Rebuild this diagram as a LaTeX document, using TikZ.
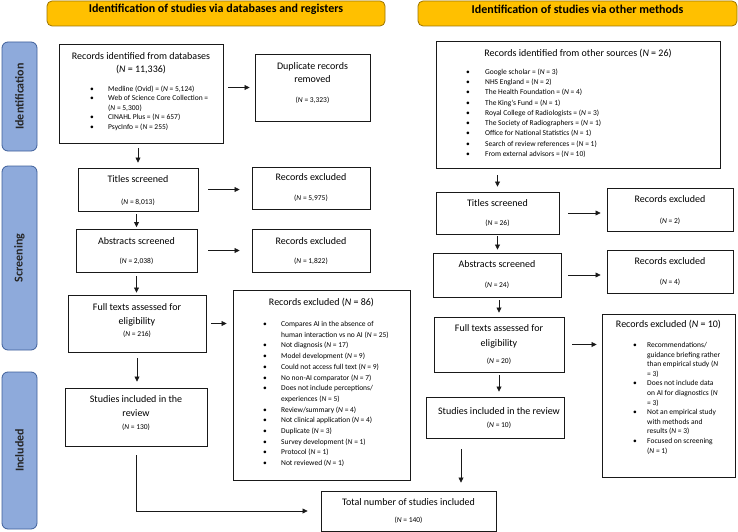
\documentclass[tikz,border=0pt]{standalone}
\usepackage{fontspec}
\setmainfont{Carlito}
\usepackage{graphicx}
\usetikzlibrary{arrows.meta,fit,calc}
\definecolor{hdrfill}{HTML}{FFC000}
\definecolor{hdrline}{HTML}{9C7400}
\definecolor{sidefill}{HTML}{8EAADB}
\definecolor{sideline}{HTML}{3E5F9A}
\newlength\bx
\newlength\tx
\newcommand\NN[1]{(\textit{N} = #1)}
\newcommand\bitem[1]{\par\hangindent=\tx\hangafter=1\noindent\hbox to \tx{\hspace*{\bx}\textbullet\hfil}#1}
\newcommand\blst[5]{\begin{minipage}[t]{\dimexpr#2+#3\relax}\setlength\bx{#1}\setlength\tx{#2}\fontsize{7.5}{#4}\selectfont\raggedright #5\end{minipage}}
\tikzset{
  box/.style={draw=black!90, line width=0.9pt, inner sep=0pt, fill=white},
  hdr/.style={draw=hdrline, line width=0.8pt, fill=hdrfill, rounded corners=5pt, inner sep=0pt,
    font=\fontsize{12}{14}\selectfont\bfseries},
  side/.style={draw=sideline, line width=0.8pt, fill=sidefill, rounded corners=6pt, inner sep=0pt,
    font=\fontsize{12}{14}\selectfont\bfseries, text=black!85},
  ttl/.style={font=\fontsize{10}{12}\selectfont, inner sep=0pt, text height=6.5pt, text depth=0pt},
  nsm/.style={font=\fontsize{7.5}{9}\selectfont, inner sep=0pt, text height=5pt, text depth=0pt},
  lst/.style={inner sep=0pt, anchor=base west},
  arr/.style={draw=black!90, line width=0.7pt, -{Triangle[length=5pt,width=5pt]}},
}
\begin{document}
\begin{tikzpicture}[x=1pt,y=-1pt]
\useasboundingbox (0,0) rectangle (738,532);
% headers
\node[hdr, fit={(47,1) (385,26)}] (H1) {Identification of studies via databases and registers};
\node[hdr, fit={(418,1) (737,26)}] (H2) {Identification of studies via other methods};
% side labels
\node[side, fit={(2,42) (37,151)}] (S1) {};
\node[side, fit={(2,166) (37,350)}] (S2) {};
\node[side, fit={(2,372) (37,529)}] (S3) {};
\node[side, draw=none, fill=none] (S1t) at (S1.center) {\rotatebox{90}{Identification}};
\node[side, draw=none, fill=none] (S2t) at (S2.center) {\rotatebox{90}{Screening}};
\node[side, draw=none, fill=none] (S3t) at (S3.center) {\rotatebox{90}{Included}};
% left column boxes
\node[box, fit={(59,44) (223,143)}] (A) {};
\node[ttl] (A1) at (141,56) {Records identified from databases};
\node[ttl] (A2) at (141,69) {\NN{11,336}};
\node[lst] (AL) at (59,91.5) {\blst{31pt}{49pt}{104pt}{9.5pt}{%
  \bitem{Medline (Ovid) = \NN{5,124}}
  \bitem{Web of Science Core Collection = \NN{5,300}}
  \bitem{CINAHL Plus = \NN{657}}
  \bitem{PsycInfo = \NN{255}}}};
\node[box, fit={(255,54) (370,121)}] (B) {};
\node[ttl] (B1) at (312.5,66) {Duplicate records};
\node[ttl] (B2) at (312.5,79) {removed};
\node[nsm] (B3) at (312.5,100) {\NN{3,323}};
\node[box, fit={(78,168) (198,211)}] (C) {};
\node[ttl] (C1) at (138,179) {Titles screened};
\node[nsm] (C2) at (138,202) {\NN{8,013}};
\node[box, fit={(252,167) (370,209)}] (D) {};
\node[ttl] (D1) at (311,177) {Records excluded};
\node[nsm] (D2) at (311,198) {\NN{5,975}};
\node[box, fit={(76,229) (197,272)}] (E) {};
\node[ttl] (E1) at (136.5,241) {Abstracts screened};
\node[nsm] (E2) at (136.5,261) {\NN{2,038}};
\node[box, fit={(252,229) (370,272)}] (F) {};
\node[ttl] (F1) at (311,241) {Records excluded};
\node[nsm] (F2) at (311,261) {\NN{1,822}};
\node[box, fit={(68,295) (206,352)}] (G) {};
\node[ttl] (G1) at (137,307) {Full texts assessed for};
\node[ttl] (G2) at (137,321) {eligibility};
\node[nsm] (G3) at (137,334) {\NN{216}};
\node[box, fit={(233,290) (410,480)}] (Hx) {};
\node[ttl] (Hx1) at (321.5,302) {Records excluded (\textit{N} = 86)};
\node[lst] (HL) at (233,326.5) {\blst{30pt}{48pt}{112pt}{10.7pt}{%
  \bitem{Compares AI in the absence of human interaction vs no AI \NN{25}}
  \bitem{Not diagnosis \NN{17}}
  \bitem{Model development \NN{9}}
  \bitem{Could not access full text \NN{9}}
  \bitem{No non-AI comparator \NN{7}}
  \bitem{Does not include perceptions/ experiences \NN{5}}
  \bitem{Review/summary \NN{4}}
  \bitem{Not clinical application \NN{4}}
  \bitem{Duplicate \NN{3}}
  \bitem{Survey development \NN{1}}
  \bitem{Protocol \NN{1}}
  \bitem{Not reviewed \NN{1}}}};
\node[box, fit={(65,388) (207,446)}] (I) {};
\node[ttl] (I1) at (136,399) {Studies included in the};
\node[ttl] (I2) at (136,413) {review};
\node[nsm] (I3) at (136,427) {\NN{130}};
\node[box, fit={(321,491) (496,531)}] (T) {};
\node[ttl] (T1) at (408.5,502) {Total number of studies included};
\node[nsm] (T2) at (408.5,520) {\NN{140}};
% right column boxes
\node[box, fit={(436,41) (720,168)}] (J) {};
\node[ttl] (J1) at (578,53) {Records identified from other sources (\textit{N} = 26)};
\node[lst] (JL) at (436,74.5) {\blst{30pt}{49pt}{200pt}{10.25pt}{%
  \bitem{Google scholar = \NN{3}}
  \bitem{NHS England = \NN{2}}
  \bitem{The Health Foundation = \NN{4}}
  \bitem{The King’s Fund = \NN{1}}
  \bitem{Royal College of Radiologists = \NN{3}}
  \bitem{The Society of Radiographers = \NN{1}}
  \bitem{Office for National Statistics \NN{1}}
  \bitem{Search of review references = \NN{1}}
  \bitem{From external advisors = \NN{10}}}};
\node[box, fit={(436,192) (559,234)}] (K) {};
\node[ttl] (K1) at (497.5,203) {Titles screened};
\node[nsm] (K2) at (497.5,223) {\NN{26}};
\node[box, fit={(607,188) (733,231)}] (L) {};
\node[ttl] (L1) at (670,199) {Records excluded};
\node[nsm] (L2) at (670,221) {\NN{2}};
\node[box, fit={(433,253) (561,297)}] (M) {};
\node[ttl] (M1) at (497,264) {Abstracts screened};
\node[nsm] (M2) at (497,285) {\NN{24}};
\node[box, fit={(607,250) (733,293)}] (N) {};
\node[ttl] (N1) at (670,261) {Records excluded};
\node[nsm] (N2) at (670,282) {\NN{4}};
\node[box, fit={(434,317) (564,372)}] (O) {};
\node[ttl] (O1) at (499,328) {Full texts assessed for};
\node[ttl] (O2) at (499,343) {eligibility};
\node[nsm] (O3) at (499,361) {\NN{20}};
\node[box, fit={(602,314) (735,477)}] (P) {};
\node[ttl] (P1) at (668.5,324) {Records excluded (\textit{N} = 10)};
\node[lst] (PL) at (602,347.5) {\blst{31pt}{45pt}{73pt}{9.6pt}{%
  \bitem{Recommendations/ guidance briefing rather than empirical study \NN{3}}
  \bitem{Does not include data on AI for diagnostics \NN{3}}
  \bitem{Not an empirical study with methods and results \NN{3}}
  \bitem{Focused on screening \NN{1}}}};
\node[box, fit={(426,397) (564,438)}] (Q) {};
\node[ttl] (Q1) at (499,411) {Studies included in the review};
\node[nsm] (Q2) at (499,425) {\NN{10}};
\coordinate (qt) at (461,0);
% arrows left
\draw[arr, shorten <=5pt, shorten >=5pt] (A.east |- B.west) -- (B.west);
\draw[arr, shorten <=5pt, shorten >=5pt] (C.north |- A.south) -- (C.north);
\draw[arr, shorten <=10pt, shorten >=12pt] (C.east) -- (C.east -| D.west);
\draw[arr, shorten <=3pt, shorten >=1.5pt] (E.north |- C.south) -- (E.north);
\draw[arr, shorten <=11pt, shorten >=12pt] (E.east) -- (E.east -| F.west);
\draw[arr, shorten <=4pt, shorten >=2pt] (E.south) -- (E.south |- G.north);
\draw[arr, shorten <=5pt, shorten >=6pt] (G.east) -- (G.east -| Hx.west);
\draw[arr, shorten <=6pt, shorten >=6pt] (G.south) -- (G.south |- I.north);
\draw[arr, shorten <=9pt, shorten >=13pt] (I.south) |- (T.west);
% arrows right
\draw[arr, shorten <=7pt, shorten >=5pt] (K.north |- J.south) -- (K.north);
\draw[arr, shorten <=9pt, shorten >=6pt] (K.east) -- (K.east -| L.west);
\draw[arr, shorten <=2pt, shorten >=3pt] (K.south) -- (K.south |- M.north);
\draw[arr, shorten <=7pt, shorten >=6pt] (M.east) -- (M.east -| N.west);
\draw[arr, shorten <=3pt, shorten >=4pt] (O.north |- M.south) -- (O.north);
\draw[arr, shorten <=8pt, shorten >=5pt] (O.east) -- (O.east -| P.west);
\draw[arr, shorten <=3pt, shorten >=5pt] (O.south) -- (O.south |- Q.north);
\draw[arr, shorten <=11pt, shorten >=8pt] (Q.south -| qt) -- (T.north -| qt);
\end{tikzpicture}
\end{document}
